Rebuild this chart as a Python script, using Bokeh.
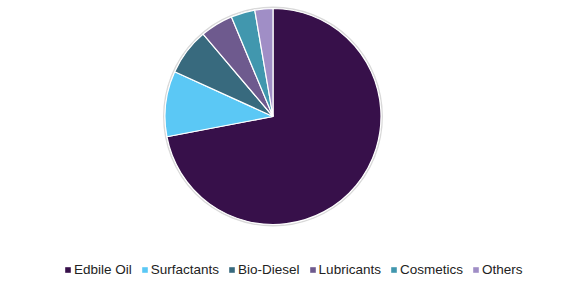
import numpy as np
from bokeh.plotting import figure
from bokeh.models import ColumnDataSource, Legend, LegendItem, Range1d
from bokeh.embed import file_html
from bokeh.resources import INLINE

categories = ["Edbile Oil", "Surfactants", "Bio-Diesel", "Lubricants", "Cosmetics", "Others"]
shares = [72.0, 9.8, 7.0, 4.9, 3.6, 2.7]
colors = ["#37104A", "#5BC8F5", "#386A7E", "#6E5A8E", "#4197AE", "#A08EC6"]

W, H = 576, 286
cx, cy, r = 272.5, 170, 108

frac = np.array(shares) / sum(shares)
cum = np.concatenate([[0], np.cumsum(frac)])
start = np.pi / 2 - cum[:-1] * 2 * np.pi
end = np.pi / 2 - cum[1:] * 2 * np.pi

src = ColumnDataSource(dict(cat=categories, start=start, end=end, color=colors))

p = figure(width=W, height=H, output_backend="svg", toolbar_location=None,
           x_range=Range1d(0, W), y_range=Range1d(0, H), min_border=0)
p.axis.visible = False
p.grid.visible = False
p.outline_line_color = None
p.background_fill_color = "white"

p.circle(x=[cx], y=[cy], radius=r + 1.2, fill_color=None, line_color="#d9d9d9", line_width=1.5)
wr = p.wedge(x=cx, y=cy, radius=r, start_angle="start", end_angle="end", direction="clock",
             fill_color="color", line_color="white", line_width=1.2, source=src)

# legend proxies (no border) so squares keep full size
lg = p.wedge(x=cx, y=cy, radius=0, start_angle="start", end_angle="end", direction="clock",
             fill_color="color", line_color=None, source=src)

items = [LegendItem(label=c, renderers=[lg], index=i) for i, c in enumerate(categories)]
legend = Legend(items=items, orientation="horizontal", location=(64, 9),
                glyph_width=7, glyph_height=7, label_standoff=3, spacing=9,
                label_text_font="Liberation Sans", label_text_font_size="13.5px",
                label_text_color="#222222", padding=0, margin=0,
                background_fill_alpha=0, border_line_alpha=0, label_height=14)
p.add_layout(legend, "center")

open("out.html", "w").write(file_html(p, INLINE))
